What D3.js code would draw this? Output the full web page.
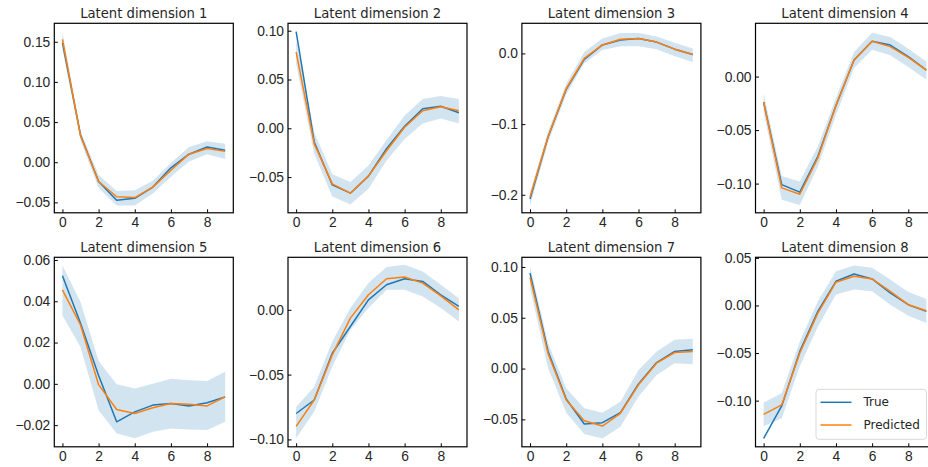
<!DOCTYPE html>
<html>
<head>
<meta charset="utf-8">
<script src="https://cdn.jsdelivr.net/npm/d3@7"></script>
<style>
  body { margin: 0; background: #fff; }
  svg { display: block; font-family: "DejaVu Sans", sans-serif; }
  .tick text { fill: #262626; }
</style>
</head>
<body>
<svg id="canvas" width="928" height="467"></svg>
<script>

var steps = [0, 1, 2, 3, 4, 5, 6, 7, 8, 9];

var titles = ["Latent dimension 1", "Latent dimension 2", "Latent dimension 3", "Latent dimension 4",
	"Latent dimension 5", "Latent dimension 6", "Latent dimension 7", "Latent dimension 8"];

var trueSeries = [
	[0.149, 0.034, -0.024, -0.0475, -0.045, -0.031, -0.007, 0.010, 0.019, 0.015],
	[0.099, -0.014, -0.058, -0.0665, -0.049, -0.021, 0.002, 0.020, 0.0226, 0.016],
	[-0.206, -0.118, -0.051, -0.0085, 0.012, 0.019, 0.021, 0.016, 0.006, -0.0015],
	[-0.024, -0.101, -0.108, -0.0745, -0.027, 0.0155, 0.033, 0.0295, 0.0186, 0.006],
	[0.0524, 0.0293, 0.004, -0.0184, -0.0136, -0.0103, -0.0095, -0.0107, -0.0092, -0.0063],
	[-0.080, -0.0696, -0.0335, -0.0129, 0.0077, 0.0193, 0.024, 0.0219, 0.0116, 0.0026],
	[0.094, 0.0168, -0.030, -0.0546, -0.0533, -0.0434, -0.0151, 0.0059, 0.0168, 0.0184],
	[-0.1397, -0.1056, -0.0483, -0.0062, 0.0254, 0.0331, 0.0279, 0.0131, 0.0008, -0.0062]
];

var predSeries = [
	[0.153, 0.033, -0.024, -0.043, -0.044, -0.031, -0.010, 0.010, 0.017, 0.0135],
	[0.078, -0.016, -0.057, -0.0665, -0.049, -0.023, 0.001, 0.018, 0.022, 0.018],
	[-0.203, -0.118, -0.050, -0.007, 0.012, 0.020, 0.021, 0.016, 0.006, -0.0015],
	[-0.024, -0.104, -0.110, -0.076, -0.027, 0.0155, 0.033, 0.028, 0.018, 0.006],
	[0.0455, 0.0285, -0.0004, -0.0124, -0.0144, -0.0116, -0.0095, -0.0099, -0.0107, -0.0063],
	[-0.090, -0.0696, -0.0348, -0.0064, 0.0116, 0.024, 0.0253, 0.0206, 0.0108, 0.0],
	[0.0898, 0.0145, -0.031, -0.0513, -0.0566, -0.044, -0.016, 0.0053, 0.0158, 0.0168],
	[-0.1144, -0.1045, -0.050, -0.008, 0.0244, 0.0307, 0.0279, 0.0149, 0.0008, -0.0055]
];

var bandLower = [
	[0.140, 0.027, -0.032, -0.054, -0.054, -0.039, -0.018, 0.001, 0.010, 0.004],
	[0.066, -0.026, -0.070, -0.078, -0.062, -0.033, -0.011, 0.005, 0.010, 0.005],
	[-0.215, -0.126, -0.058, -0.014, 0.005, 0.010, 0.010, 0.006, -0.004, -0.012],
	[-0.033, -0.115, -0.120, -0.084, -0.036, 0.008, 0.025, 0.020, 0.009, -0.003],
	[0.0331, 0.0178, -0.0128, -0.024, -0.0264, -0.0232, -0.0216, -0.0221, -0.0224, -0.0184],
	[-0.099, -0.0786, -0.0438, -0.0155, 0.0013, 0.0155, 0.0155, 0.0103, 0.0013, -0.009],
	[0.079, 0.0003, -0.0434, -0.0645, -0.0688, -0.0572, -0.0276, -0.0063, 0.0053, 0.0043],
	[-0.127, -0.1186, -0.064, -0.022, 0.0114, 0.0167, 0.0149, 0.0008, -0.0108, -0.0185]
];

var bandUpper = [
	[0.162, 0.039, -0.016, -0.036, -0.035, -0.023, -0.001, 0.019, 0.026, 0.023],
	[0.090, -0.004, -0.047, -0.055, -0.038, -0.012, 0.013, 0.030, 0.033, 0.030],
	[-0.196, -0.110, -0.043, 0.002, 0.021, 0.029, 0.029, 0.024, 0.015, 0.007],
	[-0.0155, -0.093, -0.098, -0.065, -0.020, 0.023, 0.041, 0.037, 0.026, 0.014],
	[0.0573, 0.0396, 0.0111, -0.0002, -0.0023, 0.0001, 0.0025, 0.0017, 0.0014, 0.0058],
	[-0.075, -0.0593, -0.0245, 0.0013, 0.0206, 0.033, 0.0348, 0.0296, 0.0193, 0.009],
	[0.1007, 0.025, -0.0194, -0.039, -0.0434, -0.0326, -0.0013, 0.0168, 0.0283, 0.0293],
	[-0.102, -0.0922, -0.0378, 0.0043, 0.036, 0.042, 0.0395, 0.0272, 0.0142, 0.0068]
];

var yLimits = [
	[-0.063, 0.173], [-0.0866, 0.1076], [-0.2255, 0.0426], [-0.1273, 0.0498],
	[-0.0305, 0.0613], [-0.1057, 0.0405], [-0.077, 0.1095], [-0.1485, 0.0506]
];

var yTicks = [
	[-0.05, 0.00, 0.05, 0.10, 0.15],
	[-0.05, 0.00, 0.05, 0.10],
	[-0.2, -0.1, 0.0],
	[-0.10, -0.05, 0.00],
	[-0.02, 0.00, 0.02, 0.04, 0.06],
	[-0.10, -0.05, 0.00],
	[-0.05, 0.00, 0.05, 0.10],
	[-0.10, -0.05, 0.00, 0.05]
];

var yDecimals = [2, 2, 1, 2, 2, 2, 2, 2];
var xTicks = [0, 2, 4, 6, 8];

var seriesNames = ["True", "Predicted"];
var colors = ["#1f77b4", "#ff7f0e"];

var svg = d3.select("#canvas");

var panelW = 179, panelH = 189.5;
var lefts = [54.3, 288, 521.9, 755.5];
var tops = [23.3, 257.3];
var tickFont = "13.8px", titleFont = "13.2px", legendFont = "12px";

var x = d3.scaleLinear().domain([-0.45, 9.45]).range([0, panelW]);

// minus sign like matplotlib
function fmt(dec) {
	return function(v) {
		var s = Math.abs(v).toFixed(dec);
		return (v < -1e-9 ? "\u2212" : "") + s;
	};
}

titles.forEach(function(title, p) {
	var col = p % 4, row = Math.floor(p / 4);
	var g = svg.append("g")
		.attr("transform", "translate(" + lefts[col] + "," + tops[row] + ")");

	var y = d3.scaleLinear().domain(yLimits[p]).range([panelH, 0]);

	var pts = steps.map(function(s, i) {
		return {x: s, t: trueSeries[p][i], pr: predSeries[p][i], lo: bandLower[p][i], hi: bandUpper[p][i]};
	});

	g.append("path")
		.datum(pts)
		.attr("fill", "#1f77b4")
		.attr("fill-opacity", 0.2)
		.attr("d", d3.area()
			.x(function(d) { return x(d.x); })
			.y0(function(d) { return y(d.lo); })
			.y1(function(d) { return y(d.hi); }));

	["t", "pr"].forEach(function(key, k) {
		g.append("path")
			.datum(pts)
			.attr("fill", "none")
			.attr("stroke", colors[k])
			.attr("stroke-width", 1.5)
			.attr("stroke-linejoin", "round")
			.attr("d", d3.line()
				.x(function(d) { return x(d.x); })
				.y(function(d) { return y(d[key]); }));
	});

	var xAxis = g.append("g")
		.attr("transform", "translate(0," + panelH + ")")
		.call(d3.axisBottom(x).tickValues(xTicks).tickSizeInner(-3.5).tickSizeOuter(0).tickPadding(4));
	xAxis.select(".domain").remove();
	xAxis.selectAll("text").style("font-size", tickFont);

	var yAxis = g.append("g")
		.call(d3.axisLeft(y).tickValues(yTicks[p]).tickFormat(fmt(yDecimals[p])).tickSizeInner(-3.5).tickSizeOuter(0).tickPadding(4));
	yAxis.select(".domain").remove();
	yAxis.selectAll("text").style("font-size", tickFont);
	g.selectAll(".tick line").attr("stroke", "#000").attr("stroke-width", 1);

	g.append("rect")
		.attr("width", panelW)
		.attr("height", panelH)
		.attr("fill", "none")
		.attr("stroke", "#000")
		.attr("stroke-width", 1.2);

	g.append("text")
		.attr("x", panelW / 2)
		.attr("y", -5)
		.attr("text-anchor", "middle")
		.style("font-size", titleFont)
		.attr("fill", "#262626")
		.text(title);

	// legend only in last panel
	if (p == 7) {
		var lg = g.append("g").attr("transform", "translate(" + (panelW - 118.5) + "," + (panelH - 57.5) + ")");
		lg.append("rect")
			.attr("width", 110.5)
			.attr("height", 50)
			.attr("rx", 3)
			.attr("fill", "#fff")
			.attr("fill-opacity", 0.8)
			.attr("stroke", "#d9d9d9");
		seriesNames.forEach(function(name, k) {
			var yy = 13 + k * 22.7;
			lg.append("line")
				.attr("x1", 4.5).attr("x2", 35.5)
				.attr("y1", yy).attr("y2", yy)
				.attr("stroke", colors[k])
				.attr("stroke-width", 1.5);
			lg.append("text")
				.attr("x", 47.5)
				.attr("y", yy)
				.attr("dy", "0.35em")
				.style("font-size", legendFont)
				.attr("fill", "#262626")
				.text(name);
		});
	}
});

</script>
</body>
</html>
